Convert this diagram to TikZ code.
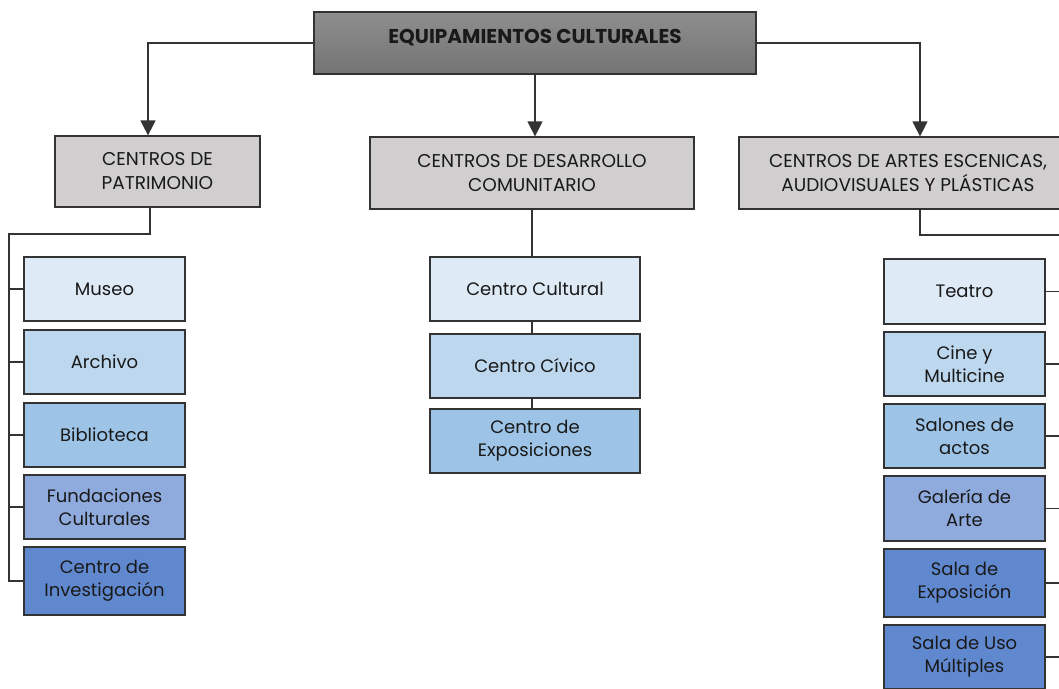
\documentclass[tikz,border=0pt]{standalone}
\usepackage{fontspec}
\setmainfont{Poppins}
\usetikzlibrary{arrows.meta}
\definecolor{bord}{HTML}{333333}
\definecolor{lvtwo}{HTML}{D0CECE}
\definecolor{cA}{HTML}{DEEAF6}
\definecolor{cB}{HTML}{BDD7EE}
\definecolor{cC}{HTML}{9DC3E6}
\definecolor{cD}{HTML}{8FAADC}
\definecolor{cE}{HTML}{6088CF}
\definecolor{topT}{HTML}{8E8E8E}
\definecolor{topB}{HTML}{747474}
\tikzset{
  box/.style={draw=bord, line width=1.2pt, rectangle, align=center, inner sep=2pt, text=black!90},
  topbox/.style={box, top color=topT, bottom color=topB, font=\fontsize{20}{24}\selectfont\bfseries,
     minimum width=442pt, minimum height=62pt, text height=14pt, text depth=14pt},
  lvbox/.style={box, fill=lvtwo, font=\fontsize{18.5}{24}\selectfont, minimum height=72pt},
  leaf/.style={box, font=\fontsize{18}{23}\selectfont, minimum width=161pt, minimum height=64pt},
  midleaf/.style={leaf, minimum width=210pt},
  conn/.style={draw=bord, line width=1.2pt},
  arr/.style={conn, -{Triangle[width=15pt,length=15pt]}}
}
\begin{document}
\begin{tikzpicture}[x=1pt,y=-1pt]
\useasboundingbox (0,0) rectangle (1059,688);
\clip (0,0) rectangle (1059,688);
\fill[white] (0,0) rectangle (1059,688);

% top
\node[topbox] (top) at (535,43) {EQUIPAMIENTOS CULTURALES};

% level 2
\node[lvbox, minimum width=205pt, minimum height=71pt] (A) at (157.5,171.5) {CENTROS DE\\PATRIMONIO};
\node[lvbox, minimum width=324pt] (B) at (532,173) {CENTROS DE DESARROLLO\\COMUNITARIO};
\node[lvbox, minimum width=338pt] (C) at (908,173) {CENTROS DE ARTES ESCENICAS,\\AUDIOVISUALES Y PLÁSTICAS};

\draw[arr] (top.west) -| ([xshift=-9.5pt]A.north);
\draw[arr] (top.east) -| ([xshift=12pt]C.north);
\draw[arr] (top.south) -- (top.south |- B.north);

% left leaves
\node[leaf, fill=cA] (l1) at (104.5,289) {Museo};
\node[leaf, fill=cB] (l2) at (104.5,362) {Archivo};
\node[leaf, fill=cC] (l3) at (104.5,435) {Biblioteca};
\node[leaf, fill=cD] (l4) at (104.5,507) {Fundaciones\\Culturales};
\node[leaf, fill=cE, minimum height=68pt] (l5) at (104.5,581) {Centro de\\Investigación};

\coordinate (lbus) at (9,234);
\draw[conn] ([xshift=-7.5pt]A.south) |- (lbus) -- (lbus |- l5.west) -- (l5.west);
\foreach \n in {l1,l2,l3,l4} \draw[conn] (\n.west) -- (\n.west -| lbus);

% middle leaves
\node[midleaf, fill=cA] (m1) at (535,289) {Centro Cultural};
\node[midleaf, fill=cB] (m2) at (535,366) {Centro Cívico};
\node[midleaf, fill=cC] (m3) at (535,441) {Centro de\\Exposiciones};
\draw[conn] (B.south) -- (B.south |- m1.north);
\draw[conn] (B.south |- m1.south) -- (B.south |- m2.north);
\draw[conn] (B.south |- m2.south) -- (B.south |- m3.north);

% right leaves
\node[leaf, fill=cA, minimum height=65pt] (r1) at (964.5,291.5) {Teatro};
\node[leaf, fill=cB] (r2) at (964.5,364) {Cine y\\Multicine};
\node[leaf, fill=cC] (r3) at (964.5,436) {Salones de\\actos};
\node[leaf, fill=cD, minimum height=65pt] (r4) at (964.5,508.5) {Galería de\\Arte};
\node[leaf, fill=cE, minimum height=68pt] (r5) at (964.5,583) {Sala de\\Exposición};
\node[leaf, fill=cE] (r6) at (964.5,657) {Sala de Uso\\Múltiples};

\coordinate (rbus) at (1062,235);
\draw[conn] ([xshift=12pt]C.south) |- (rbus) -- (rbus |- r6.east) -- (r6.east);
\foreach \n in {r1,r2,r3,r4,r5} \draw[conn] (\n.east) -- (\n.east -| rbus);
\end{tikzpicture}
\end{document}
